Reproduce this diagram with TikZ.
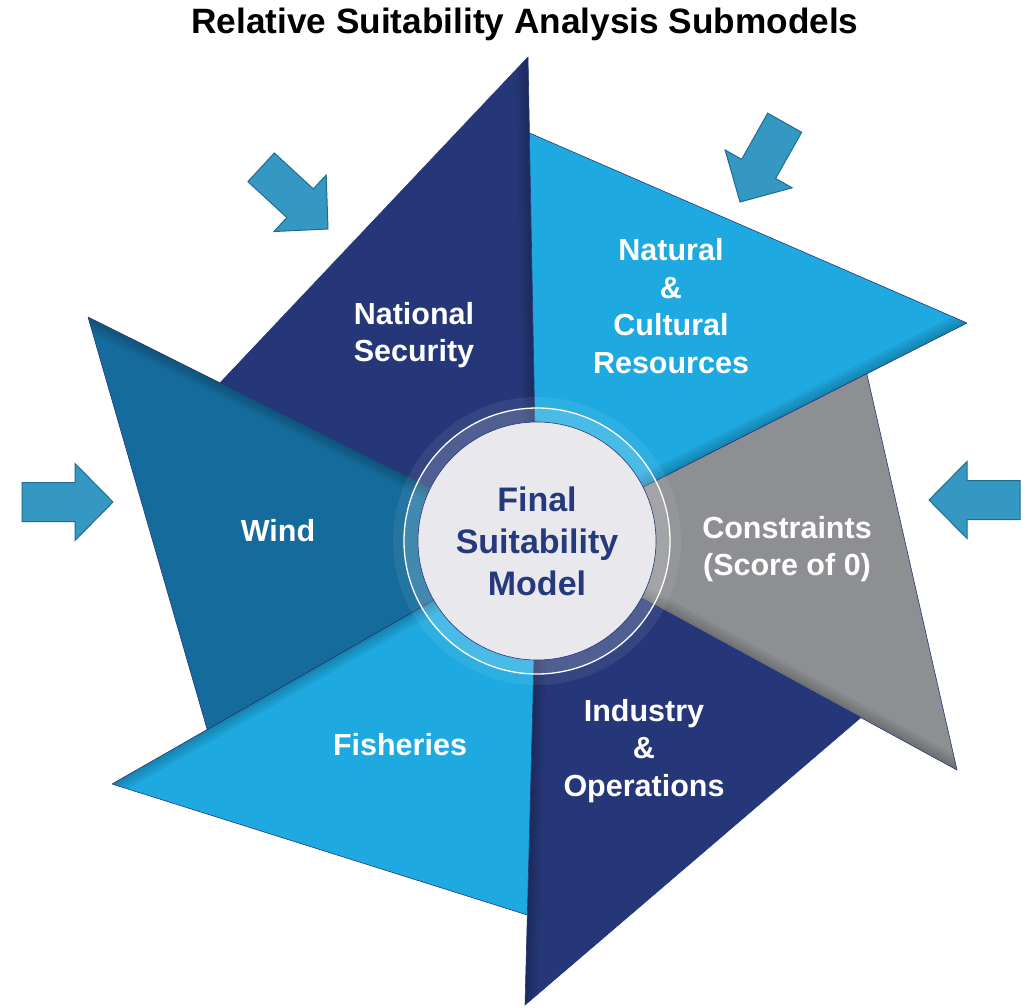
\documentclass[tikz,border=0pt]{standalone}
\usepackage{fontspec}
\setmainfont{Liberation Sans}
\usepackage{tikz}
\usetikzlibrary{calc}

\definecolor{navyblade}{HTML}{253778}
\definecolor{skyblade}{HTML}{1EA9E0}
\definecolor{tealblade}{HTML}{156B9B}
\definecolor{greyblade}{HTML}{8D8F92}
\definecolor{arrowfill}{HTML}{3598C2}
\definecolor{arrowline}{HTML}{1F6D8E}
\definecolor{corefill}{HTML}{E8E8ED}
\definecolor{coretext}{HTML}{26397B}

\tikzset{
  blade/.style={draw=navyblade, line width=0.6pt, line join=round},
  bladetext/.style={text=white, align=center, font=\bfseries\fontsize{30.5}{37.5}\selectfont},
  pics/inarrow/.style={code={
    \draw[fill=arrowfill, draw=arrowline, line width=1pt, line join=miter]
      (0,0) -- (-38,38.5) -- (-38,19.5) -- (-91,19.5) -- (-91,-19.5) -- (-38,-19.5) -- (-38,-38.5) -- cycle;
  }}
}

\begin{document}
\begin{tikzpicture}[x=1pt, y=-1pt]
  \useasboundingbox (0,0) rectangle (1030,1007);

  \node[font=\bfseries\fontsize{35.2}{40}\selectfont] (title) at (525,24) {Relative Suitability Analysis Submodels};

  \coordinate (C) at (537,541);
  \coordinate (tipNS) at (528,57);
  \coordinate (tipNC) at (967,323);
  \coordinate (tipCO) at (957,770);
  \coordinate (tipIO) at (525,1005);
  \coordinate (tipFI) at (112,784);
  \coordinate (tipWI) at (88,317);
  \coordinate (baseNS) at ($(C)!0.706!(tipWI)$);
  \coordinate (baseNC) at ($(C)!0.843!(tipNS)$);
  \coordinate (baseCO) at ($(C)!0.767!(tipNC)$);
  \coordinate (baseIO) at ($(C)!0.771!(tipCO)$);
  \coordinate (baseFI) at ($(C)!0.806!(tipIO)$);
  \coordinate (baseWI) at ($(C)!0.776!(tipFI)$);

  \foreach \b/\col in {NS/navyblade, NC/skyblade, CO/greyblade, IO/navyblade, FI/skyblade, WI/tealblade} {
    \fill[\col] (C) -- (tip\b) -- (base\b) -- cycle;
    \begin{scope}
      \clip (C) -- (tip\b) -- (base\b) -- cycle;
      \foreach \w in {6,12,18,24}
        \draw[black, opacity=0.05, line width=\w pt] (C) -- (tip\b);
    \end{scope}
    \draw[blade] (C) -- (tip\b) -- (base\b) -- cycle;
  }

  \node[bladetext] (lblNS) at (414,335) {National\\Security};
  \node[bladetext] (lblNC) at (671,306) {Natural\\\&\\Cultural\\Resources};
  \node[bladetext] (lblCO) at (787,549) {Constraints\\(Score of 0)};
  \node[bladetext] (lblIO) at (644,751) {Industry\\\&\\Operations};
  \node[bladetext] (lblFI) at (400,745) {Fisheries};
  \node[bladetext] (lblWI) at (278,531) {Wind};

  \fill[white, opacity=0.07] (C) circle[radius=144pt];
  \fill[white, opacity=0.14] (C) circle[radius=133pt];
  \draw[white, line width=1.3pt] (C) circle[radius=133pt];
  \node[circle, fill=corefill, draw=navyblade, line width=0.6pt, minimum size=238pt, inner sep=0pt,
        text=coretext, align=center, font=\bfseries\fontsize{34}{42}\selectfont] (core) at (C)
        {Final\\Suitability\\Model};

  \pic (arrowW) at (113,502) {inarrow};
  \pic (arrowE) [rotate=180] at (929,500) {inarrow};
  \pic (arrowNW) [rotate=-42.7] at (328,229) {inarrow};
  \pic (arrowNE) [rotate=-119.4] at (740,202) {inarrow};
\end{tikzpicture}
\end{document}
